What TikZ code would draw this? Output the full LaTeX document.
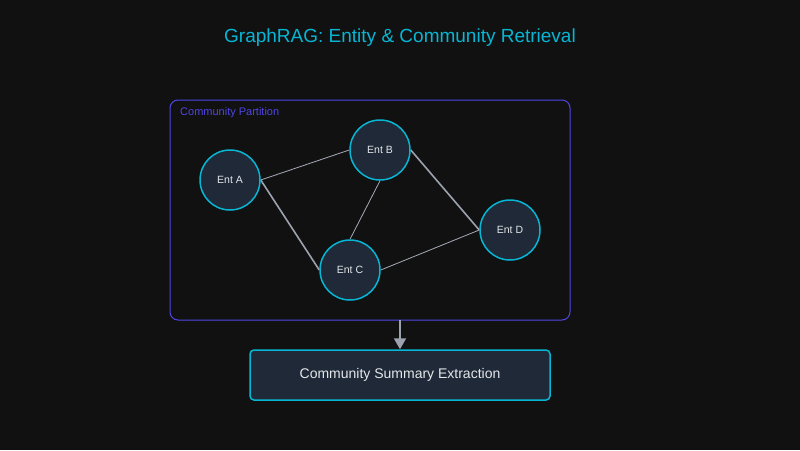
\documentclass[tikz,border=0pt]{standalone}
\usepackage{fontspec}
\setmainfont{Liberation Sans}
\usetikzlibrary{arrows.meta,backgrounds}
\definecolor{bg}{HTML}{111111}
\definecolor{cyanc}{HTML}{06B6D4}
\definecolor{nodefill}{HTML}{1F2937}
\definecolor{partc}{HTML}{4F46E5}
\definecolor{edgec}{HTML}{9CA3AF}
\definecolor{txt}{HTML}{E5E7EB}
\begin{document}
\begin{tikzpicture}[x=1pt,y=-1pt,
  ent/.style={circle,draw=cyanc,line width=1.5pt,fill=nodefill,minimum size=60pt,inner sep=0pt,text=txt,font=\fontsize{10.5}{12}\selectfont},
  thinedge/.style={draw=edgec!90!white,line width=0.8pt},
  thickedge/.style={draw=edgec,line width=1.6pt},
  partbox/.style={draw=partc,line width=1pt,rounded corners=8pt},
  stepbox/.style={draw=cyanc,line width=1.5pt,fill=nodefill,rounded corners=4pt,minimum width=300pt,minimum height=50pt,text=txt,font=\fontsize{14}{16}\selectfont},
  flow/.style={draw=edgec,line width=2pt,-{Triangle[length=11pt,width=12pt]}}]
\begin{scope}[on background layer]
\fill[bg] (0,0) rectangle (800,450);
\end{scope}
\useasboundingbox (0,0) rectangle (800,450);
\node[text=cyanc,font=\fontsize{19}{21}\selectfont] (title) at (400,38) {GraphRAG: Entity \& Community Retrieval};
\draw[partbox] (170,100) rectangle (570,320);
\coordinate (parttop) at (400,320);
\node[anchor=west,text=partc,font=\fontsize{11}{13}\selectfont,inner sep=0pt] (plabel) at (180,112.5) {Community Partition};
\node[ent] (A) at (230,180) {Ent A};
\node[ent] (B) at (380,150) {Ent B};
\node[ent] (C) at (350,270) {Ent C};
\node[ent] (D) at (510,230) {Ent D};
\begin{scope}[on background layer]
\draw[thinedge] (A.east) -- (B.west);
\draw[thickedge] (A.east) -- (C.west);
\draw[thinedge] (B.south) -- (C.north);
\draw[thickedge] (B.east) -- (D.west);
\draw[thinedge] (C.east) -- (D.west);
\end{scope}
\node[stepbox] (S) at (400,375) {Community Summary Extraction};
\draw[flow] (parttop) -- (S.north);
\end{tikzpicture}
\end{document}
